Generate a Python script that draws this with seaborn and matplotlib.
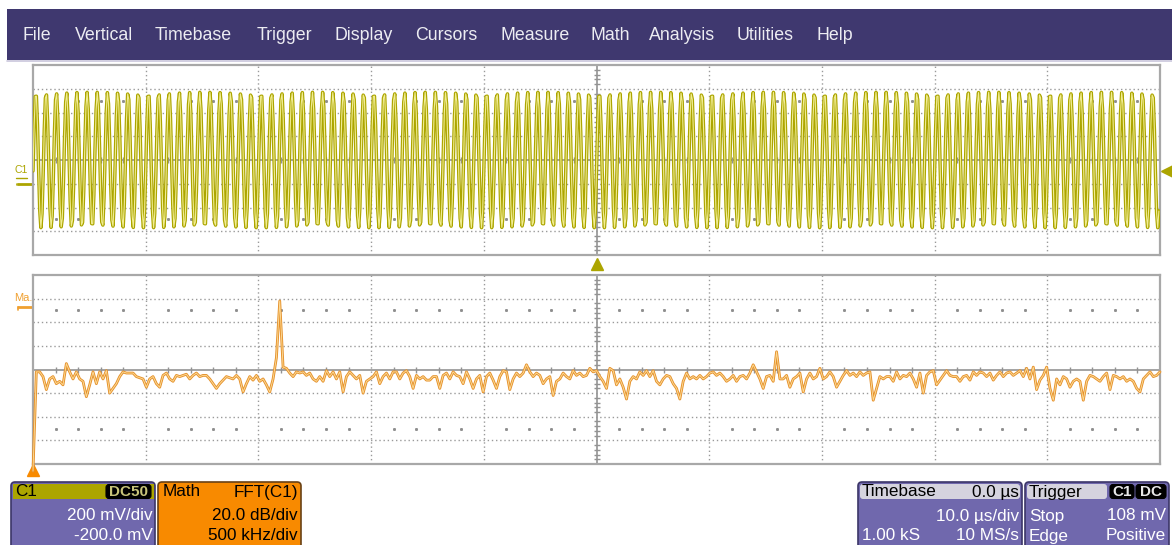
import numpy as np
import matplotlib
matplotlib.use("Agg")
import matplotlib.pyplot as plt
import matplotlib.transforms as mtransforms
from matplotlib.patches import FancyBboxPatch, Rectangle
import seaborn as sns

# ---------------- acquisition settings, channel C1 ----------------
SAMPLE_RATE_MHZ = 10.0
N_SAMPLES = 1000
TIME_PER_DIV_US = 10.0
VOLTS_PER_DIV = 0.200
CH_OFFSET_V = -0.200
TONE_FREQ_MHZ = 1.1
TONE_AMPL_V = 0.57
TONE_DC_V = 0.200
TRIGGER_LEVEL_V = 0.108

# ---------------- math trace: FFT(C1), 0 .. 5 MHz ----------------
DB_PER_DIV = 20.0
KHZ_PER_DIV = 500.0
FFT_CENTER_DB = -80.0
fft_level_db = [
    -166, -82, -82, -86, -97, -88, -86, -92, -90, -93,
    -75, -82, -88, -82, -88, -90, -103, -93, -82, -92,
    -82, -88, -81, -100, -96, -92, -86, -82, -83, -83,
    -83, -86, -87, -88, -95, -88, -86, -92, -95, -85,
    -83, -88, -90, -85, -86, -85, -84, -88, -85, -83,
    -86, -85, -85, -88, -92, -96, -92, -89, -86, -87,
    -88, -85, -88, -99, -92, -86, -89, -85, -90, -88,
    -93, -99, -88, -70, -22, -78, -79, -83, -86, -82,
    -83, -82, -85, -83, -88, -90, -86, -90, -81, -86,
    -82, -88, -82, -99, -86, -82, -85, -88, -85, -100,
    -90, -88, -86, -82, -92, -86, -83, -88, -82, -82,
    -88, -83, -81, -86, -96, -85, -88, -86, -89, -89,
    -86, -86, -96, -85, -83, -88, -82, -85, -86, -92,
    -82, -88, -96, -88, -85, -99, -86, -83, -89, -96,
    -86, -81, -82, -97, -88, -83, -86, -83, -76, -82,
    -86, -83, -85, -92, -88, -86, -102, -90, -88, -83,
    -86, -88, -81, -85, -83, -86, -85, -79, -82, -81,
    -86, -90, -96, -79, -81, -93, -88, -95, -105, -90,
    -86, -88, -82, -85, -81, -86, -81, -90, -93, -88,
    -85, -86, -92, -96, -105, -90, -83, -88, -86, -88,
    -85, -88, -86, -83, -82, -85, -83, -86, -90, -88,
    -85, -90, -86, -85, -88, -83, -76, -82, -88, -96,
    -86, -85, -90, -65, -88, -88, -85, -95, -88, -86,
    -83, -99, -88, -83, -88, -86, -79, -88, -86, -82,
    -86, -95, -90, -85, -81, -85, -83, -86, -82, -85,
    -83, -82, -106, -96, -86, -88, -86, -86, -90, -82,
    -88, -85, -86, -83, -88, -95, -83, -100, -85, -82,
    -81, -93, -89, -85, -81, -85, -86, -86, -90, -86,
    -85, -89, -82, -85, -82, -83, -86, -83, -89, -85,
    -82, -86, -83, -82, -85, -83, -81, -86, -79, -88,
    -78, -97, -89, -85, -78, -96, -106, -88, -93, -86,
    -88, -95, -90, -88, -90, -106, -90, -85, -86, -88,
    -90, -86, -83, -97, -85, -86, -88, -86, -90, -88,
    -90, -96, -99, -88, -85, -82, -86, -85, -82,
]

menu_items = ["File", "Vertical", "Timebase", "Trigger", "Display", "Cursors",
              "Measure", "Math", "Analysis", "Utilities", "Help"]

# ---------------- styling ----------------
W, H = 1172, 545
MENU_BG = "#3f386f"
BOX_PURPLE = "#7068ad"
BOX_EDGE = "#3c3668"
HEADER_GRAY = "#d5d3de"
C1_COLOR = "#aca500"
C1_LIGHT = "#f1ed92"
MATH_COLOR = "#f88a00"
FFT_OUTER = "#e5902a"
FFT_INNER = "#fcd993"
GRID = "#9a9a9a"
FRAME = "#a8a8a8"
CENTER = "#939393"

sns.set_theme(style="white")
plt.rcParams["font.family"] = ["Liberation Sans", "DejaVu Sans"]

fig = plt.figure(figsize=(W / 100, H / 100), dpi=100)
fig.patch.set_facecolor("white")

# overlay in pixel units for the instrument chrome
ui = fig.add_axes([0, 0, 1, 1], zorder=0)
ui.set_xlim(0, W)
ui.set_ylim(H, 0)
ui.axis("off")
ui.patch.set_alpha(0)

# menu bar
ui.add_patch(Rectangle((7, 9), W - 7, 51, color=MENU_BG, lw=0))
ui.plot([7, W], [60.5, 60.5], color="#c9c6dc", lw=1.2)
menu_left = [22, 75, 155, 257, 334, 415, 500, 591, 649, 737, 817]
for name, x in zip(menu_items, menu_left):
    ui.text(x, 35, name, color="#ececf2", fontsize=12.8, ha="left", va="center")


def px_axes(x0, y0, x1, y1):
    return fig.add_axes([x0 / W, 1 - y1 / H, (x1 - x0) / W, (y1 - y0) / H], zorder=1)


ax_c1 = px_axes(33, 65, 1160, 255)
ax_fft = px_axes(33, 275, 1160, 464)


def graticule(ax, xlo, xdiv, ylo, ydiv):
    dot = (0, (1, 2))
    for i in range(1, 10):
        x = xlo + i * xdiv
        if i == 5:
            ax.axvline(x, color=CENTER, lw=1.2, zorder=1)
        else:
            ax.axvline(x, color=GRID, lw=1.0, ls=dot, zorder=1)
    for j in range(1, 8):
        y = ylo + j * ydiv
        if j == 4:
            ax.axhline(y, color=CENTER, lw=1.2, zorder=1)
        else:
            ax.axhline(y, color=GRID, lw=1.0, ls=dot, zorder=1)
    xm = np.array([xlo + k * xdiv / 5 for k in range(1, 50) if k % 5])
    ym = np.array([ylo + k * ydiv / 5 for k in range(1, 40) if k % 5])
    yc = ylo + 4 * ydiv
    xc = xlo + 5 * xdiv
    ax.plot(xm, np.full(xm.size, yc), ls="none", marker="|", ms=5, mew=1.0,
            color=CENTER, zorder=1)
    ax.plot(np.full(ym.size, xc), ym, ls="none", marker="_", ms=5, mew=1.0,
            color=CENTER, zorder=1)
    for r in (-2.5, 2.5):
        ax.plot(xm, np.full(xm.size, yc + r * ydiv), ls="none", marker="s", ms=1.1,
                color="#8e8e8e", zorder=1)
    ax.set_xlim(xlo, xlo + 10 * xdiv)
    ax.set_ylim(ylo, ylo + 8 * ydiv)
    ax.set_xticks([])
    ax.set_yticks([])
    ax.set_xlabel("")
    ax.set_ylabel("")
    for s in ax.spines.values():
        s.set_color(FRAME)
        s.set_linewidth(1.6)
    ax.set_facecolor("white")


# ---------------- C1 time-domain trace ----------------
t_us = (np.arange(N_SAMPLES) - N_SAMPLES / 2) / SAMPLE_RATE_MHZ
phase = np.arcsin((TRIGGER_LEVEL_V - TONE_DC_V) / TONE_AMPL_V)
v_c1 = TONE_DC_V + TONE_AMPL_V * np.sin(2 * np.pi * TONE_FREQ_MHZ * t_us + phase)

screen_center_v = -CH_OFFSET_V
graticule(ax_c1, -5 * TIME_PER_DIV_US, TIME_PER_DIV_US,
          screen_center_v - 4 * VOLTS_PER_DIV, VOLTS_PER_DIV)
sns.lineplot(x=t_us, y=v_c1, ax=ax_c1, color=C1_COLOR, lw=2.5,
             estimator=None, sort=False, legend=False, zorder=3)
sns.lineplot(x=t_us, y=v_c1, ax=ax_c1, color=C1_LIGHT, lw=0.8,
             estimator=None, sort=False, legend=False, zorder=4)

# trigger position (t = 0) and trigger level markers
bx = mtransforms.blended_transform_factory(ax_c1.transData, ax_c1.transAxes)
ax_c1.plot([0], [-0.048], marker="^", ms=9, color=C1_COLOR, transform=bx,
           clip_on=False, ls="none")
by = mtransforms.blended_transform_factory(ax_c1.transAxes, ax_c1.transData)
ax_c1.plot([1.0058], [TRIGGER_LEVEL_V], marker="<", ms=9, color=C1_COLOR,
           transform=by, clip_on=False, ls="none")
# channel ground reference
ax_c1.plot([-0.0142, -0.0005], [0, 0], color=C1_COLOR, lw=2, transform=by,
           clip_on=False, solid_capstyle="butt")
ax_c1.plot([-0.0138, -0.0138], [0, -0.012], color=C1_COLOR, lw=1.2, transform=by,
           clip_on=False)
ax_c1.annotate("C1", xy=(-0.0105, 0), xycoords=by, xytext=(0, 6.5),
               textcoords="offset points", ha="center", va="bottom",
               fontsize=7.5, color=C1_COLOR, annotation_clip=False)
ui.plot([16, 27], [177.5, 177.5], color=C1_COLOR, lw=1)

# ---------------- FFT math trace ----------------
f_khz = np.linspace(0, 10 * KHZ_PER_DIV, len(fft_level_db))
graticule(ax_fft, 0, KHZ_PER_DIV, FFT_CENTER_DB - 4 * DB_PER_DIV, DB_PER_DIV)
sns.lineplot(x=f_khz, y=fft_level_db, ax=ax_fft, color=FFT_OUTER, lw=2.0,
             estimator=None, sort=False, legend=False, zorder=3)
sns.lineplot(x=f_khz, y=fft_level_db, ax=ax_fft, color=FFT_INNER, lw=0.7,
             estimator=None, sort=False, legend=False, zorder=4)
for ln in ax_fft.lines[-2:]:
    ln.set_clip_on(False)

fx = mtransforms.blended_transform_factory(ax_fft.transData, ax_fft.transAxes)
ax_fft.plot([0], [-0.034], marker="^", ms=9, color=MATH_COLOR, transform=fx,
            clip_on=False, ls="none")
# math reference marker
ui.plot([17, 32], [306.5, 306.5], color="#f0a030", lw=2, solid_capstyle="butt")
ui.plot([17.5, 17.5], [306.5, 310], color="#f0a030", lw=1.2)
ui.text(14, 298, "Ma.", fontsize=8, color="#f0a030", ha="left", va="center")


# ---------------- descriptor boxes ----------------
def box(x0, y0, x1, y1, face, edge):
    ui.add_patch(FancyBboxPatch((x0, y0), x1 - x0, y1 - y0,
                                boxstyle="round,pad=0,rounding_size=4",
                                fc=face, ec=edge, lw=1.2))


def badge(x0, x1, yc, label, fc="#000000", tc="#d9d5a0"):
    ui.add_patch(FancyBboxPatch((x0, yc - 7), x1 - x0, 14,
                                boxstyle="round,pad=0,rounding_size=3",
                                fc=fc, ec="#000000", lw=0.8))
    ui.text((x0 + x1) / 2, yc + 0.5, label, fontsize=11, color=tc,
            ha="center", va="center", fontweight="bold")


FS = 12.3
ROW1, ROW2, ROW3 = 492, 516, 536

# C1
box(11, 482, 155, 552, BOX_PURPLE, BOX_EDGE)
ui.add_patch(Rectangle((12.5, 483.5), 141, 15, color=C1_COLOR, lw=0))
ui.text(15, ROW1, "C1", fontsize=FS, color="black", va="center")
badge(106, 151, ROW1 - 0.5, "DC50", tc="#c8c47a")
ui.text(153, ROW2, f"{VOLTS_PER_DIV * 1000:.0f} mV/div", fontsize=FS,
        color="white", ha="right", va="center")
ui.text(153, ROW3, f"{CH_OFFSET_V * 1000:.1f} mV", fontsize=FS,
        color="white", ha="right", va="center")

# Math
box(158, 482, 301, 552, MATH_COLOR, "#6a4216")
ui.text(163, ROW1, "Math", fontsize=FS, color="black", va="center")
ui.text(298, ROW1, "FFT(C1)", fontsize=FS, color="black", ha="right", va="center")
ui.text(298, ROW2, f"{DB_PER_DIV:.1f} dB/div", fontsize=FS, color="black",
        ha="right", va="center")
ui.text(298, ROW3, f"{KHZ_PER_DIV:.0f} kHz/div", fontsize=FS, color="black",
        ha="right", va="center")

# Timebase
box(858, 482, 1022, 552, BOX_PURPLE, BOX_EDGE)
ui.add_patch(FancyBboxPatch((860, 484), 160, 15, boxstyle="round,pad=0,rounding_size=3",
                            fc=HEADER_GRAY, ec="none"))
ui.text(862, ROW1, "Timebase", fontsize=FS, color="black", va="center")
ui.text(1019, ROW1, "0.0 µs", fontsize=FS, color="black", ha="right", va="center")
ui.text(1019, ROW2, f"{TIME_PER_DIV_US:.1f} µs/div", fontsize=FS, color="white",
        ha="right", va="center")
ui.text(862, ROW3, f"{N_SAMPLES / 1000:.2f} kS", fontsize=FS, color="white",
        ha="left", va="center")
ui.text(1019, ROW3, f"{SAMPLE_RATE_MHZ:.0f} MS/s", fontsize=FS, color="white",
        ha="right", va="center")

# Trigger
box(1025, 482, 1169, 552, BOX_PURPLE, BOX_EDGE)
ui.add_patch(FancyBboxPatch((1027, 484), 80, 15, boxstyle="round,pad=0,rounding_size=3",
                            fc=HEADER_GRAY, ec="none"))
ui.text(1029, ROW1, "Trigger", fontsize=FS, color="black", va="center")
badge(1110, 1134, ROW1 - 0.5, "C1", tc="#e8e8e8")
badge(1136, 1166, ROW1 - 0.5, "DC", tc="#e8e8e8")
ui.text(1029, ROW2, "Stop", fontsize=FS, color="white", va="center")
ui.text(1166, ROW2, f"{TRIGGER_LEVEL_V * 1000:.0f} mV", fontsize=FS, color="white",
        ha="right", va="center")
ui.text(1029, ROW3, "Edge", fontsize=FS, color="white", va="center")
ui.text(1166, ROW3, "Positive", fontsize=FS, color="white", ha="right", va="center")

fig.savefig("out.png", dpi=100, facecolor="white")
